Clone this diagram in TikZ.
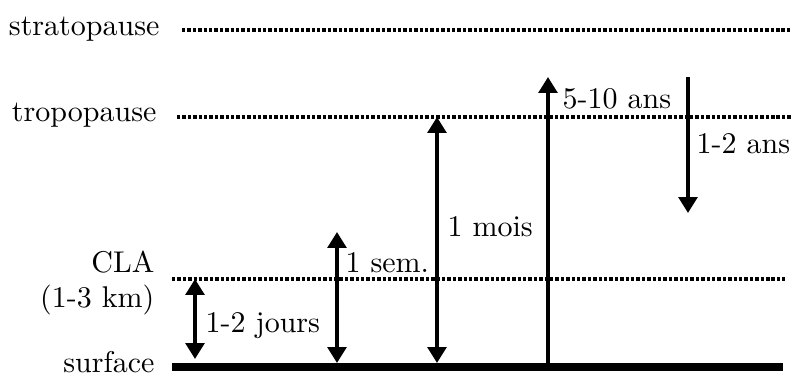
\documentclass[tikz,border=0pt]{standalone}
\usetikzlibrary{arrows.meta}
\begin{document}
\begin{tikzpicture}[x=0.3333pt,y=-0.3333pt,
  level/.style={line width=1.05pt, dash pattern=on 1.15pt off 0.65pt},
  ground/.style={line width=2.8pt},
  uparrow/.style={line width=1.25pt, -{Triangle[length=5.3pt,width=6.2pt]}},
  twoarrow/.style={line width=1.25pt, {Triangle[length=5.3pt,width=6.2pt]}-{Triangle[length=5.3pt,width=6.2pt]}},
  lab/.style={inner sep=0pt, anchor=base east},
  tlab/.style={inner sep=0pt, anchor=base west}]
\useasboundingbox (0,0) rectangle (792,374);
% level labels
\node[lab] (strat) at (160,35) {stratopause};
\node[lab] (tropo) at (157,121) {tropopause};
\node[lab] (cla) at (155,272.7) {CLA};
\node[lab] (clakm) at (155,307) {(1-3 km)};
\node[lab] (surf) at (155,372) {surface};
% level lines
\coordinate (s0) at (182,30);  \coordinate (s1) at (792,30);
\coordinate (t0) at (177,117); \coordinate (t1) at (792,117);
\coordinate (c0) at (172,279); \coordinate (c1) at (785,279);
\coordinate (g0) at (172,367); \coordinate (g1) at (783,367);
\draw[level] (s0) -- (s1);
\draw[level] (t0) -- (t1);
\draw[level] (c0) -- (c1);
\draw[ground] (g0) -- (g1);
% arrows
\coordinate (a1t) at (195,279); \coordinate (a1b) at (195,359);
\draw[twoarrow] (a1t) -- (a1b);
\node[tlab] (l1) at (205,332) {1-2 jours};
\coordinate (a2t) at (337,232); \coordinate (a2b) at (337,363);
\draw[twoarrow] (a2t) -- (a2b);
\node[tlab] (l2) at (345,272) {1 sem.};
\coordinate (a3t) at (437,117); \coordinate (a3b) at (437,363);
\draw[twoarrow] (a3t) -- (a3b);
\node[tlab] (l3) at (447,236) {1 mois};
\coordinate (a4t) at (548,77); \coordinate (a4b) at (548,366);
\draw[uparrow] (a4b) -- (a4t);
\node[tlab] (l4) at (562,108) {5-10 ans};
\coordinate (a5t) at (688,77); \coordinate (a5b) at (688,213);
\draw[uparrow] (a5t) -- (a5b);
\node[tlab] (l5) at (696,153) {1-2 ans};
\end{tikzpicture}
\end{document}
